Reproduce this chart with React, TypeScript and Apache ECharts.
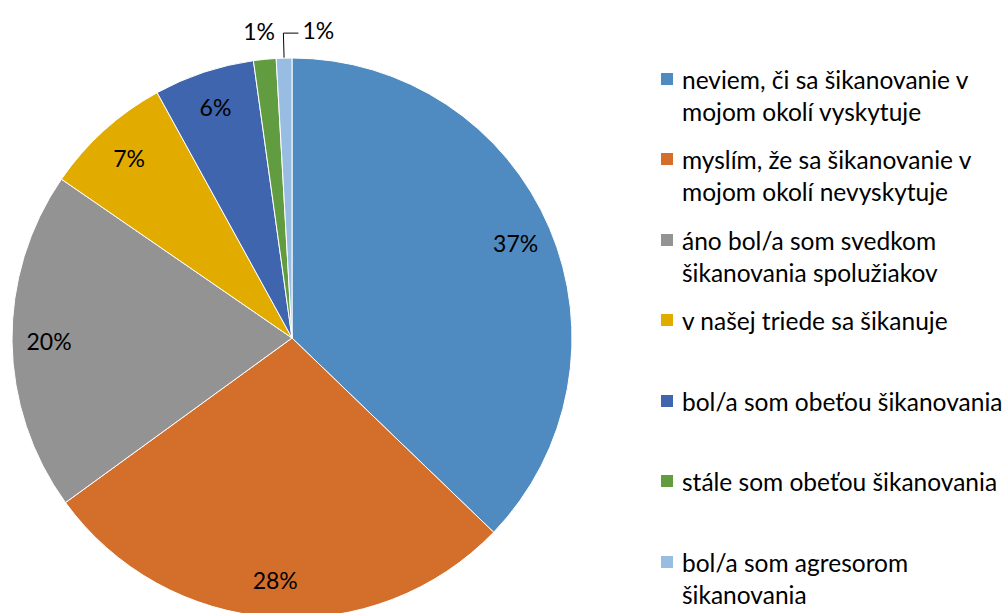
import React, { useEffect, useRef } from "react";
import * as echarts from "echarts";

const categories = [
  "neviem, či sa šikanovanie v mojom okolí vyskytuje",
  "myslím, že sa šikanovanie v mojom okolí nevyskytuje",
  "áno bol/a som svedkom šikanovania spolužiakov",
  "v našej triede sa šikanuje",
  "bol/a som obeťou šikanovania",
  "stále som obeťou šikanovania",
  "bol/a som agresorom šikanovania",
];
const legendLines = [
  "neviem, či sa šikanovanie v\nmojom okolí vyskytuje",
  "myslím, že sa šikanovanie v\nmojom okolí nevyskytuje",
  "áno bol/a som svedkom\nšikanovania spolužiakov",
  "v našej triede sa šikanuje",
  "bol/a som obeťou šikanovania",
  "stále som obeťou šikanovania",
  "bol/a som agresorom\nšikanovania",
];
const values = [37.2, 27.8, 19.6, 7.4, 5.8, 1.3, 0.9];
const colors = ["#4F8BC0", "#D36F2B", "#939393", "#E2AB00", "#3E65AE", "#629C40", "#99BCE2"];

const FONT = "Lato";
const LEGEND_FS = 24.5;
const LABEL_FS = 23;

export default function App() {
  const ref = useRef<HTMLDivElement>(null);
  useEffect(() => {
    document.body.style.margin = "0";
    const chart = echarts.init(ref.current!, undefined, { renderer: "svg" });
    const pct = (p: any) => Math.round(p.percent) + "%";
    const legends = categories.map((name, i) => {
      const c = Math.round(78.5 + 80.5 * i);
      const twoLine = legendLines[i].includes("\n");
      return {
        orient: "vertical",
        left: 659,
        top: twoLine ? c - 48 : c - 16,
        padding: 0,
        icon: "rect",
        itemWidth: 14,
        itemHeight: 14,
        selectedMode: false,
        data: [name],
        formatter: () => (twoLine ? "\n" + legendLines[i] : legendLines[i]),
        textStyle: {
          fontFamily: FONT,
          fontSize: LEGEND_FS,
          color: "#000",
          lineHeight: 32,
          padding: [0, 0, 0, 3],
        },
      };
    });
    chart.setOption({
      animation: false,
      backgroundColor: "#fff",
      color: colors,
      legend: legends,
      series: [
        {
          type: "pie",
          center: [292, 338],
          radius: [0, 280],
          startAngle: 90,
          clockwise: true,
          avoidLabelOverlap: false,
          itemStyle: { borderColor: "#fff", borderWidth: 1 },
          emphasis: { disabled: true },
          label: { show: false, formatter: pct, fontFamily: FONT, fontSize: LABEL_FS, color: "#000" },
          labelLine: { show: false, lineStyle: { color: "#000", width: 1 } },
          labelLayout: (params: any) => {
            if (params.dataIndex === 5) return { dx: 18 };
            if (params.dataIndex === 6) {
              const pts = params.labelLinePoints;
              if (pts && pts.length === 3) {
                const p1 = pts[1];
                const p2 = [2 * p1[0] - pts[2][0], pts[2][1]];
                return {
                  x: p2[0] + 4,
                  y: p1[1] - 3,
                  align: "left",
                  verticalAlign: "middle",
                  labelLinePoints: [pts[0], p1, p2],
                };
              }
            }
            return {};
          },
          data: categories.map((name, i) => {
            const d: any = { name, value: values[i] };
            if (i === 5) {
              d.label = { show: true, position: "outside" };
              d.labelLine = { show: false, length: 28, length2: 0 };
            }
            if (i === 6) {
              d.label = { show: true, position: "outside" };
              d.labelLine = { show: true, length: 25, length2: 15 };
            }
            return d;
          }),
        },
        {
          type: "pie",
          center: [292, 338],
          radius: [200, 280],
          startAngle: 90,
          clockwise: true,
          silent: true,
          avoidLabelOverlap: false,
          itemStyle: { color: "transparent", borderWidth: 0 },
          emphasis: { disabled: true },
          label: {
            show: true,
            position: "inside",
            formatter: pct,
            fontFamily: FONT,
            fontSize: LABEL_FS,
            color: "#000",
          },
          labelLine: { show: false },
          data: categories.map((name, i) => ({
            name,
            value: values[i],
            label: { show: i < 5 },
          })),
        },
      ],
    });
    return () => chart.dispose();
  }, []);
  return <div ref={ref} style={{ width: 1008, height: 613 }} />;
}
